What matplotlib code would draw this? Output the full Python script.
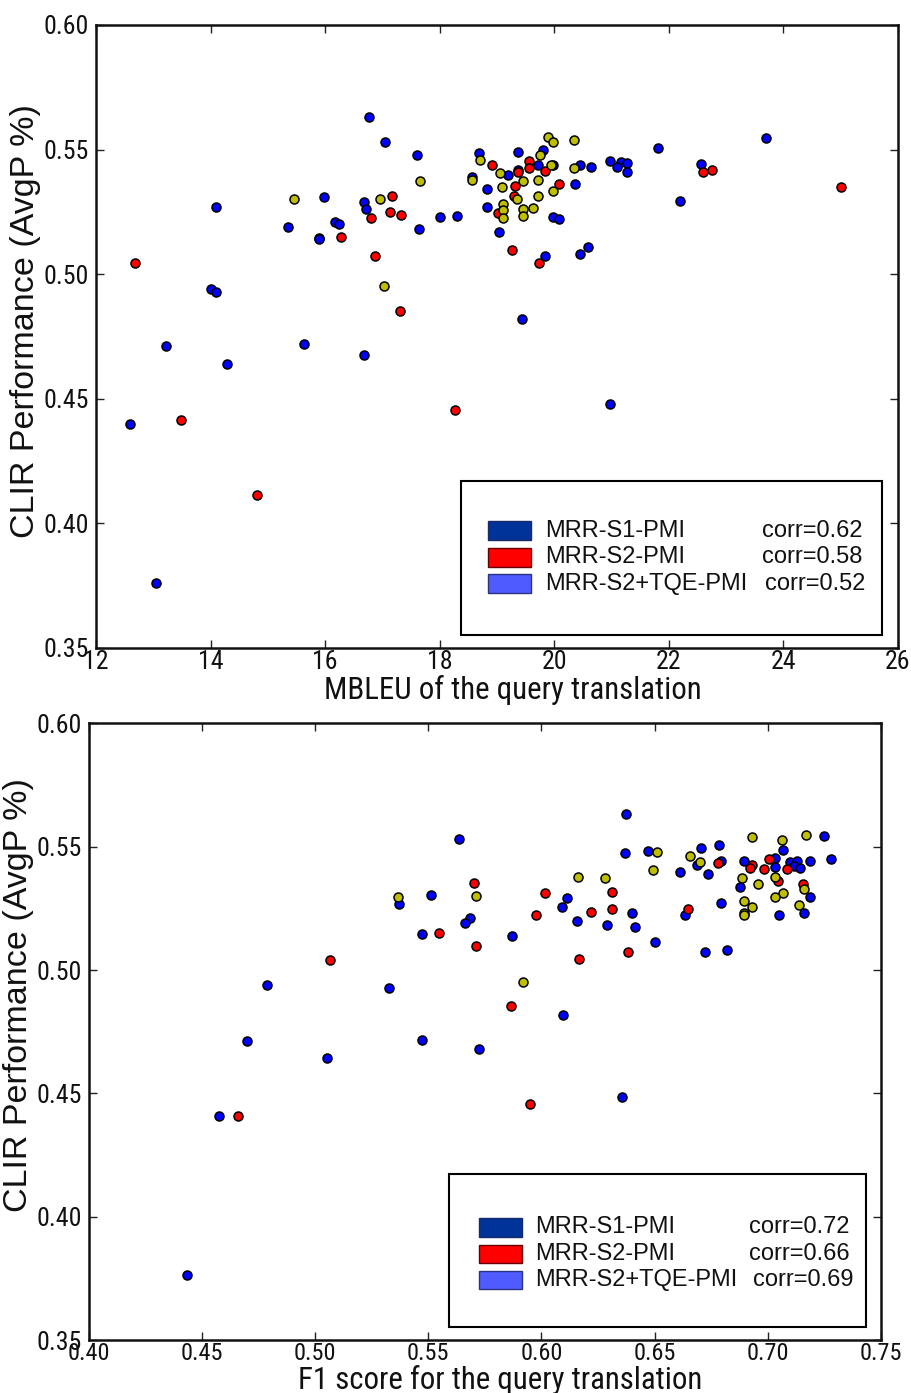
import matplotlib
matplotlib.use("Agg")
import matplotlib.pyplot as plt
from matplotlib.patches import Rectangle
from matplotlib import font_manager

# ---------------- data ----------------
# Top panel: MBLEU vs AvgP
s1_mbleu = [16.77, 17.05, 14.10, 15.98, 16.68, 16.71, 15.36, 16.18, 16.25, 15.89, 15.90,
            14.01, 14.10, 13.23, 15.63, 14.28, 16.67, 12.60, 13.04, 20.98, 19.43, 17.60,
            18.68, 19.36, 19.81, 19.72, 19.98, 19.36, 19.19, 20.45, 20.64, 20.98, 21.17,
            21.27, 21.09, 21.27, 21.81, 23.70, 22.56, 22.19, 18.56, 20.37, 18.82, 18.82,
            19.98, 20.08, 19.03, 19.83, 20.58, 20.45, 17.64, 18.00, 18.30]
s1_avgp_top = [0.563, 0.553, 0.527, 0.531, 0.529, 0.526, 0.519, 0.521, 0.520, 0.5145, 0.514,
               0.494, 0.493, 0.471, 0.472, 0.464, 0.4675, 0.440, 0.376, 0.448, 0.482, 0.548,
               0.5485, 0.549, 0.550, 0.544, 0.544, 0.542, 0.540, 0.544, 0.543, 0.5455, 0.545,
               0.5445, 0.543, 0.541, 0.5505, 0.5547, 0.5444, 0.5295, 0.539, 0.536, 0.534, 0.527,
               0.523, 0.522, 0.517, 0.5075, 0.511, 0.508, 0.518, 0.523, 0.5235]

s2_mbleu = [17.16, 16.80, 17.13, 16.28, 16.87, 12.68, 13.49, 18.27, 14.81, 18.92, 19.56,
            19.55, 19.83, 19.36, 22.59, 22.76, 25.00, 20.08, 19.32, 19.29, 19.01, 19.27,
            19.73, 17.32, 17.31]
s2_avgp_top = [0.5314, 0.5225, 0.5248, 0.515, 0.5074, 0.5043, 0.4414, 0.4454, 0.4112, 0.544,
               0.5453, 0.5426, 0.5413, 0.541, 0.541, 0.542, 0.535, 0.536, 0.5355, 0.5315,
               0.5247, 0.5097, 0.5045, 0.5236, 0.4851]

tqe_mbleu = [15.46, 16.95, 17.03, 17.65, 18.71, 19.89, 19.98, 20.35, 19.75, 19.94, 19.06,
             20.35, 18.57, 19.45, 19.71, 19.09, 19.98, 19.35, 19.72, 19.10, 19.10, 19.10,
             19.45, 19.62, 19.45]
tqe_avgp_top = [0.530, 0.530, 0.4952, 0.5375, 0.546, 0.555, 0.553, 0.554, 0.548, 0.544, 0.5406,
                0.5428, 0.538, 0.5374, 0.5378, 0.535, 0.5333, 0.530, 0.5314, 0.528, 0.5258,
                0.5224, 0.526, 0.5267, 0.5232]

# Bottom panel: F1 vs AvgP
s1_f1 = [0.5636, 0.5513, 0.5372, 0.5684, 0.5661, 0.5474, 0.4786, 0.5328, 0.4701, 0.5474,
         0.5053, 0.5725, 0.4576, 0.4435, 0.6356, 0.6094, 0.6375, 0.6369, 0.6469, 0.6113,
         0.6091, 0.6157, 0.6401, 0.6288, 0.6414, 0.5871, 0.6500, 0.6724, 0.6818, 0.6612,
         0.6634, 0.6734, 0.6791, 0.6705, 0.6687, 0.6784, 0.6791, 0.7247, 0.7279, 0.7068,
         0.6893, 0.7033, 0.7033, 0.7098, 0.7127, 0.7117, 0.7142, 0.7185, 0.6878, 0.7185,
         0.7051, 0.7161]
s1_avgp_bot = [0.553, 0.5304, 0.5268, 0.521, 0.5189, 0.5145, 0.4938, 0.4928, 0.4713, 0.4717,
               0.4643, 0.4678, 0.4408, 0.3764, 0.4485, 0.4818, 0.5631, 0.5474, 0.5484, 0.5292,
               0.5255, 0.520, 0.5232, 0.5182, 0.5173, 0.5139, 0.5112, 0.5074, 0.5082, 0.5399,
               0.5223, 0.5389, 0.5273, 0.5496, 0.5427, 0.5506, 0.5442, 0.5545, 0.545, 0.5487,
               0.5442, 0.5453, 0.5419, 0.5439, 0.5441, 0.5422, 0.5412, 0.5443, 0.5335, 0.5295,
               0.5222, 0.5231]

s2_f1 = [0.5702, 0.5549, 0.5711, 0.5066, 0.4660, 0.5950, 0.5866, 0.6015, 0.6311, 0.5974,
         0.6219, 0.6311, 0.6166, 0.6381, 0.6647, 0.6781, 0.6928, 0.6921, 0.7004, 0.6984,
         0.7083, 0.7043, 0.7154]
s2_avgp_bot = [0.5354, 0.515, 0.5097, 0.5042, 0.441, 0.4457, 0.4854, 0.5313, 0.5315, 0.5224,
               0.5235, 0.5247, 0.5045, 0.5074, 0.5247, 0.5435, 0.5426, 0.5415, 0.545, 0.5411,
               0.541, 0.5361, 0.535]

tqe_f1 = [0.5711, 0.5368, 0.6509, 0.6494, 0.6160, 0.6280, 0.5917, 0.6655, 0.6699, 0.6931,
          0.7061, 0.7167, 0.6884, 0.6958, 0.7033, 0.7159, 0.7067, 0.7033, 0.6894, 0.6930,
          0.6893, 0.6893, 0.7137]
tqe_avgp_bot = [0.530, 0.5296, 0.5478, 0.5406, 0.5377, 0.5373, 0.4953, 0.5461, 0.5439, 0.5539,
                0.5527, 0.5547, 0.5373, 0.535, 0.5376, 0.533, 0.5313, 0.5297, 0.528, 0.5257,
                0.5232, 0.5224, 0.5264]

series_names = ["MRR-S1-PMI", "MRR-S2-PMI", "MRR-S2+TQE-PMI"]
corr_top = ["corr=0.62", "corr=0.58", "corr=0.52"]
corr_bot = ["corr=0.72", "corr=0.66", "corr=0.69"]

top_xticks = [12, 14, 16, 18, 20, 22, 24, 26]
bot_xticks = [0.40, 0.45, 0.50, 0.55, 0.60, 0.65, 0.70, 0.75]
yticks = [0.35, 0.40, 0.45, 0.50, 0.55, 0.60]

# ---------------- fonts ----------------
regular = "Liberation Sans"
cond_family, cond_stretch, cond_scale = regular, "normal", 1.0
_names = {f.name for f in font_manager.fontManager.ttflist}
for cand in ["Liberation Sans Narrow", "Arial Narrow", "Roboto Condensed",
             "Open Sans Condensed", "DejaVu Sans Condensed", "Noto Sans Condensed"]:
    if cand in _names:
        cond_family, cond_scale = cand, 1.2
        break
else:
    for f in font_manager.fontManager.ttflist:
        if f.name in ("DejaVu Sans", "Noto Sans", "Open Sans") and f.stretch in (
                "condensed", "semi-condensed", 75, 87) and f.style == "normal":
            cond_family, cond_stretch, cond_scale = f.name, "condensed", 1.15
            break

tick_fs = 15.5 * cond_scale
xlabel_fs = 18.5 * cond_scale
font_cond = dict(fontfamily=cond_family, fontstretch=cond_stretch)

dot_colors = ["#0000ff", "#ff0000", "#bfbf00"]
patch_colors = ["#003399", "#ff0000", "#4f5bff"]
patch_edges = ["#1a2a66", "#660000", "#2a3380"]

fig = plt.figure(figsize=(9.12, 13.93), dpi=100)
ax1 = fig.add_axes([96 / 912, 1 - 648 / 1393, 802 / 912, 623 / 1393])
ax2 = fig.add_axes([88.7 / 912, 1 - 1340 / 1393, 792.3 / 912, 616.6 / 1393])


def style_axes(ax, xticks, xfmt, xlim, xtick_fs):
    ax.set_xlim(*xlim)
    ax.set_ylim(0.35, 0.60)
    ax.set_xticks(xticks)
    ax.set_xticklabels([xfmt(v) for v in xticks], fontsize=xtick_fs, **font_cond)
    ax.set_yticks(yticks)
    ax.set_yticklabels(["%.2f" % v for v in yticks], fontsize=tick_fs, **font_cond)
    ax.tick_params(direction="in", length=6, width=1.0, top=True, right=True, pad=1.5,
                   color="#222222", labelcolor="#111111")
    ax.tick_params(axis="y", pad=5)
    for sp in ax.spines.values():
        sp.set_linewidth(1.8)
        sp.set_color("#111111")


def draw_points(ax, xs, ys):
    for (x, y), c in zip(zip(xs, ys), dot_colors):
        ax.scatter(x, y, s=42, c=c, edgecolors="black", linewidths=1.1, zorder=3)


def draw_legend(ax, box, sw_x, sw_w, sw_h, rows_bottom, text_x, text_y, corr_x, corrs):
    x0, y0, w, h = box
    ax.add_patch(Rectangle((x0, y0), w, h, transform=ax.transAxes, facecolor="white",
                           edgecolor="black", linewidth=1.5, zorder=5))
    for i in range(3):
        ax.add_patch(Rectangle((sw_x, rows_bottom[i]), sw_w, sw_h, transform=ax.transAxes,
                               facecolor=patch_colors[i], edgecolor=patch_edges[i],
                               linewidth=1.0, zorder=6))
        ax.text(text_x, text_y[i], series_names[i], transform=ax.transAxes,
                fontfamily=regular, fontsize=17, va="center", ha="left", zorder=6,
                color="#111111")
        ax.text(corr_x[i], text_y[i], corrs[i], transform=ax.transAxes,
                fontfamily=regular, fontsize=17, va="center", ha="left", zorder=6,
                color="#111111")


# ---------------- top panel ----------------
style_axes(ax1, top_xticks, lambda v: "%d" % v, (12, 26), tick_fs)
draw_points(ax1, [s1_mbleu, s2_mbleu, tqe_mbleu], [s1_avgp_top, s2_avgp_top, tqe_avgp_top])
ax1.set_xlabel("MBLEU of the query translation", fontsize=xlabel_fs, color="#111111",
               **font_cond)
ax1.set_ylabel("CLIR Performance (AvgP %)", fontfamily=regular, fontsize=24.5,
               color="#111111")
ax1.xaxis.set_label_coords(0.52, -0.043)
ax1.yaxis.set_label_coords(-0.068, 0.525)
draw_legend(ax1, (0.455, 0.021, 0.525, 0.247), 0.4884, 0.054, 0.0305,
            [0.1734, 0.130, 0.0883], 0.560, [0.1886, 0.1453, 0.1035],
            [0.830, 0.830, 0.834], corr_top)

# ---------------- bottom panel ----------------
style_axes(ax2, bot_xticks, lambda v: "%.2f" % v, (0.40, 0.75), tick_fs * 0.94)
draw_points(ax2, [s1_f1, s2_f1, tqe_f1], [s1_avgp_bot, s2_avgp_bot, tqe_avgp_bot])
ax2.set_xlabel("F1 score for the query translation", fontsize=xlabel_fs, color="#111111",
               **font_cond)
ax2.set_ylabel("CLIR Performance (AvgP %)", fontfamily=regular, fontsize=24.5,
               color="#111111")
ax2.xaxis.set_label_coords(0.519, -0.0405)
ax2.yaxis.set_label_coords(-0.069, 0.56)
draw_legend(ax2, (0.455, 0.021, 0.526, 0.249), 0.493, 0.0543, 0.0298,
            [0.1675, 0.1244, 0.0822], 0.563, [0.1825, 0.1387, 0.0973],
            [0.834, 0.834, 0.838], corr_bot)

fig.savefig("out.png", dpi=100, facecolor="white")
